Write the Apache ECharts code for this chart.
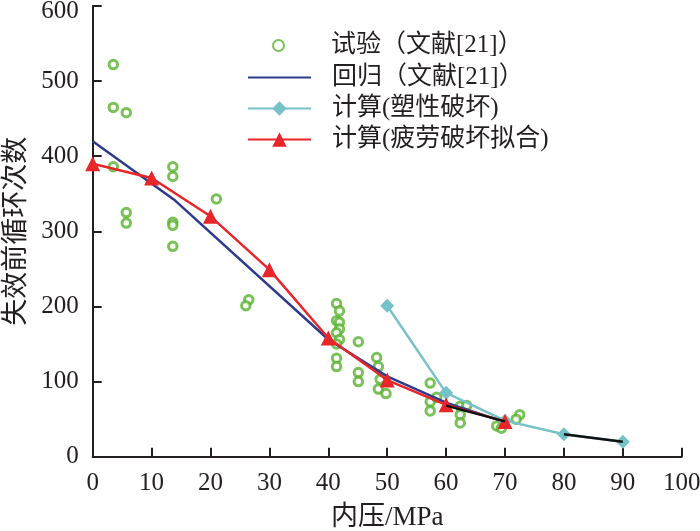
<!DOCTYPE html>
<html style="height: 100%">
<head>
    <meta charset="UTF-8">
    <script src="https://cdn.jsdelivr.net/npm/echarts@6/dist/echarts.min.js"></script>
</head>
<body style="height: 100%; margin: 0; background: #fff">
    <div id="main" style="width: 700px; height: 531px;"></div>
    <script type="text/javascript">
        // 试验点 (文献[21]) [内压, 循环次数]
        var testPoints = [
            [3.5, 522], [3.5, 465], [5.7, 458], [3.5, 386], [5.7, 325], [5.7, 311],
            [13.6, 386], [13.6, 373], [13.6, 312], [13.6, 308], [13.6, 280], [21, 343],
            [26.5, 209], [26, 201],
            [41.4, 204], [41.9, 194], [41.4, 181], [41.9, 179], [41.9, 170], [41.4, 165],
            [41.9, 156], [41.4, 150], [41.4, 131], [41.4, 120],
            [45.1, 153], [45.1, 112], [45.1, 100],
            [48.2, 132], [48.5, 120], [48.8, 103], [48.5, 90], [49.8, 84],
            [57.3, 98], [57.3, 73], [57.3, 61], [58.4, 79],
            [62.4, 67], [63.5, 68], [62.4, 56], [62.4, 45],
            [68.6, 41], [69.4, 38], [72.5, 56], [71.9, 50]
        ];
        // 回归 (文献[21])
        var regression = [[0, 420], [14, 341], [40, 156], [50, 107], [60, 72], [70, 46]];
        // 计算(塑性破坏)
        var plastic = [[50, 201], [60, 85], [70, 48], [80, 30], [90, 20]];
        // 计算(疲劳破坏拟合)
        var fatigue = [[0, 390], [10, 371], [20, 320], [30, 249], [40, 158], [50, 102], [60, 69], [70, 47]];
        // 黑色延长段
        var blackSeg = [[60, 68], [70, 47], [75, '-'], [80, 30], [90, 20]];

        var names = ['试验（文献[21]）', '回归（文献[21]）', '计算(塑性破坏)', '计算(疲劳破坏拟合)'];

        var font = 'Liberation Serif, Noto Sans CJK SC';
        var axisColor = '#231f20';
        var legendText = { fontSize: 25, fontFamily: font, color: '#231f20', padding: [0, 0, 0, 16] };

        var myChart = echarts.init(document.getElementById('main'));

        var option = {
            backgroundColor: '#fff',
            animation: false,
            grid: { left: 92.7, right: 18.3, top: 6, bottom: 74.3, outerBoundsMode: 'none' },
            legend: [
                {
                    orient: 'vertical',
                    left: 267,
                    top: 28,
                    itemWidth: 63,
                    itemHeight: 11,
                    data: [names[0]],
                    textStyle: legendText
                },
                {
                    orient: 'vertical',
                    left: 242,
                    top: 60,
                    itemWidth: 63,
                    itemHeight: 18,
                    itemGap: 6,
                    data: names.slice(1),
                    textStyle: legendText
                }
            ],
            xAxis: {
                type: 'value',
                min: 0, max: 100, interval: 10,
                name: '内压/MPa',
                nameLocation: 'middle',
                nameGap: 48,
                nameTextStyle: { fontSize: 27, fontFamily: font, color: axisColor },
                axisLine: { lineStyle: { color: axisColor, width: 2 } },
                axisTick: { inside: true, length: 9, lineStyle: { color: axisColor, width: 2 } },
                axisLabel: { fontSize: 25, fontFamily: font, color: axisColor, margin: 14 },
                splitLine: { show: false }
            },
            yAxis: {
                type: 'value',
                min: 0, max: 600, interval: 100,
                name: '失效前循环次数',
                nameLocation: 'middle',
                nameGap: 62,
                nameTextStyle: { fontSize: 27, fontFamily: font, color: axisColor },
                axisLine: { show: true, lineStyle: { color: axisColor, width: 2 } },
                axisTick: { show: true, inside: true, length: 9, lineStyle: { color: axisColor, width: 2 } },
                axisLabel: {
                    fontSize: 25, fontFamily: font, color: axisColor, margin: 14,
                    formatter: function (v) { return v === 600 ? '{t|600}' : String(v); },
                    rich: { t: { fontSize: 25, fontFamily: font, color: axisColor, padding: [11, 0, 0, 0] } }
                },
                splitLine: { show: false }
            },
            series: [
                {
                    name: names[0],
                    type: 'scatter',
                    data: testPoints,
                    symbol: 'circle',
                    symbolSize: 8.5,
                    itemStyle: { color: '#fff', borderColor: '#58b22e', borderWidth: 3 },
                    z: 2
                },
                {
                    name: names[1],
                    type: 'line',
                    data: regression,
                    symbol: 'none',
                    lineStyle: { color: '#2e3a8c', width: 2.5 },
                    itemStyle: { color: 'rgba(0,0,0,0)' },
                    z: 3
                },
                {
                    name: names[2],
                    type: 'line',
                    data: plastic,
                    symbol: 'diamond',
                    symbolSize: 14,
                    lineStyle: { color: '#76c2c8', width: 2.5 },
                    itemStyle: { color: '#76c2c8' },
                    z: 3
                },
                {
                    name: names[3],
                    type: 'line',
                    data: fatigue,
                    symbol: 'triangle',
                    symbolSize: 15,
                    lineStyle: { color: '#e8262a', width: 2.5 },
                    itemStyle: { color: '#e8262a' },
                    z: 4
                },
                {
                    name: 'black',
                    type: 'line',
                    data: blackSeg,
                    symbol: 'none',
                    connectNulls: false,
                    lineStyle: { color: '#111', width: 2.5 },
                    z: 5
                }
            ]
        };

        myChart.setOption(option);
    </script>
</body>
</html>
